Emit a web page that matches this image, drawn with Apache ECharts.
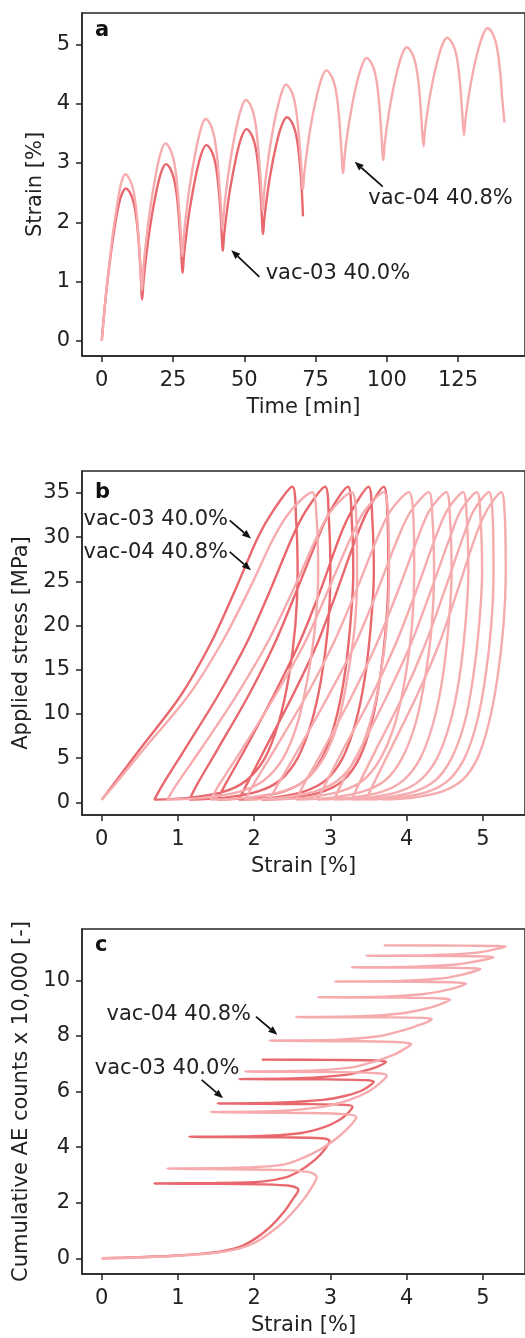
<!DOCTYPE html>
<html>
<head>
<meta charset="utf-8">
<script src="https://cdn.jsdelivr.net/npm/echarts@6.0.0/dist/echarts.min.js"></script>
<style>
  html, body { margin: 0; padding: 0; background: #fff; }
  #chart { width: 525px; height: 1338px; }
</style>
</head>
<body>
<div id="chart"></div>
<script>
// ---- panel a : strain vs time ----
const time03 = [0,1,2,3,4,5,6,7,8.4, 9.9,11.2,12.2,13.0,13.6,14.2, 14.6,15.2,16.7,18.7,20.7,22.5, 24.0,25.3,26.3,27.1,27.7,28.4,
  28.8,29.4,30.9,32.9,34.9,36.7, 38.2,39.5,40.5,41.3,41.9,42.5, 42.9,43.5,45.0,47.0,49.0,50.8, 52.3,53.6,54.6,55.4,56.0,56.6,
  57.0,57.6,59.1,61.1,63.1,65.0, 66.5,67.8,68.8,69.6,70.2,70.6];
const strainA03 = [0,0.55,1.0,1.4,1.75,2.05,2.3,2.47,2.57, 2.50,2.33,2.05,1.64,1.19,0.70, 0.97,1.27,1.84,2.41,2.82,2.98, 2.91,2.74,2.47,2.06,1.63,1.15,
  1.41,1.69,2.23,2.76,3.15,3.30, 3.23,3.07,2.80,2.41,1.98,1.52, 1.77,2.03,2.55,3.06,3.43,3.57, 3.50,3.34,3.07,2.69,2.26,1.80,
  2.04,2.29,2.79,3.28,3.63,3.77, 3.70,3.55,3.30,2.94,2.53,2.10];
const time04 = [0,1,2,3,4,5,6,7,8.2, 9.7,11.0,12.0,12.8,13.4,14.1, 14.5,15.1,16.6,18.6,20.6,22.3, 23.8,25.1,26.1,26.9,27.6,28.3,
  28.7,29.3,30.8,32.8,34.8,36.4, 37.9,39.2,40.2,41.0,41.7,42.4, 42.8,43.4,44.9,46.9,48.9,50.5, 52.0,53.3,54.3,55.1,55.8,56.5,
  56.9,57.5,59.0,61.0,63.0,64.6, 66.1,67.4,68.4,69.2,69.9,70.6, 71.0,71.6,73.1,75.1,77.1,78.8, 80.3,81.6,82.6,83.4,84.0,84.7,
  85.1,85.7,87.2,89.2,91.2,92.9, 94.4,95.7,96.7,97.5,98.1,98.8, 99.2,99.8,101.3,103.3,105.3,107.0, 108.5,109.8,110.8,111.6,112.2,112.9,
  113.3,113.9,115.4,117.4,119.4,121.2, 122.7,124.0,125.0,125.8,126.4,127.1, 127.5,128.1,129.6,131.6,133.6,135.3, 136.8,138.1,139.1,139.9,140.5,141.3];
const strainA04 = [0,0.55,1.02,1.45,1.85,2.17,2.47,2.69,2.81, 2.73,2.56,2.26,1.84,1.37,0.86, 1.16,1.48,2.10,2.71,3.16,3.33, 3.25,3.08,2.80,2.38,1.92,1.43,
  1.71,2.01,2.59,3.16,3.58,3.74, 3.67,3.50,3.22,2.81,2.36,1.88, 2.14,2.43,2.97,3.52,3.91,4.06, 3.99,3.82,3.54,3.13,2.68,2.20,
  2.45,2.73,3.26,3.79,4.17,4.32, 4.25,4.09,3.82,3.44,3.01,2.55, 2.79,3.05,3.56,4.06,4.42,4.56, 4.49,4.34,4.08,3.70,3.28,2.83,
  3.06,3.32,3.80,4.29,4.63,4.77, 4.70,4.55,4.29,3.91,3.50,3.05, 3.28,3.53,4.00,4.48,4.82,4.95, 4.88,4.73,4.48,4.12,3.71,3.28,
  3.50,3.74,4.20,4.65,4.98,5.11, 5.04,4.90,4.65,4.29,3.90,3.47, 3.69,3.92,4.37,4.82,5.14,5.27, 5.21,5.06,4.82,4.47,4.09,3.68];

// ---- panel b : stress vs strain, one row per loading / unloading branch ----
const loadStress03 = [0.3, 2, 6, 12, 18, 24, 30, 33, 35.7];
const loadStress04 = [0.3, 2, 6, 12, 18, 24, 30, 33, 35.1];
const unloadStress = [32, 26, 20, 14, 9, 5, 2.5, 1.2, 0.5, 0.3];
const loadStrain03 = [
  [0, 0.15, 0.50, 1.03, 1.43, 1.75, 2.05, 2.25, 2.50],
  [0.69, 0.80, 1.09, 1.52, 1.90, 2.21, 2.50, 2.68, 2.93],
  [1.15, 1.25, 1.52, 1.92, 2.27, 2.56, 2.84, 3.00, 3.23],
  [1.52, 1.62, 1.88, 2.25, 2.59, 2.87, 3.12, 3.28, 3.50],
  [1.80, 1.90, 2.14, 2.50, 2.83, 3.09, 3.34, 3.49, 3.70]
];
const unloadStrain03 = [
  [2.55, 2.57, 2.54, 2.45, 2.32, 2.14, 1.90, 1.60, 1.14, 0.69],
  [2.98, 3.00, 2.97, 2.88, 2.75, 2.57, 2.34, 2.04, 1.60, 1.15],
  [3.28, 3.30, 3.26, 3.18, 3.06, 2.89, 2.67, 2.38, 1.95, 1.52],
  [3.55, 3.57, 3.53, 3.45, 3.33, 3.16, 2.94, 2.65, 2.23, 1.80],
  [3.75, 3.76, 3.73, 3.65, 3.54, 3.38, 3.17, 2.90, 2.50, 2.10]
];
const loadStrain04 = [
  [0, 0.17, 0.55, 1.13, 1.57, 1.93, 2.26, 2.48, 2.76],
  [0.86, 0.98, 1.30, 1.76, 2.17, 2.51, 2.82, 3.01, 3.28],
  [1.43, 1.54, 1.84, 2.27, 2.66, 2.97, 3.27, 3.45, 3.70],
  [1.88, 1.99, 2.27, 2.68, 3.04, 3.34, 3.62, 3.79, 4.03],
  [2.20, 2.31, 2.58, 2.97, 3.33, 3.62, 3.89, 4.06, 4.29],
  [2.55, 2.65, 2.91, 3.28, 3.61, 3.89, 4.15, 4.30, 4.52],
  [2.83, 2.93, 3.17, 3.54, 3.86, 4.13, 4.38, 4.53, 4.74],
  [3.05, 3.14, 3.39, 3.74, 4.06, 4.32, 4.57, 4.71, 4.92],
  [3.28, 3.37, 3.60, 3.95, 4.25, 4.50, 4.74, 4.88, 5.08],
  [3.47, 3.56, 3.79, 4.13, 4.43, 4.67, 4.90, 5.05, 5.24]
];
const unloadStrain04 = [
  [2.82, 2.84, 2.80, 2.70, 2.57, 2.38, 2.13, 1.81, 1.34, 0.86],
  [3.34, 3.35, 3.32, 3.22, 3.10, 2.91, 2.67, 2.36, 1.89, 1.43],
  [3.76, 3.77, 3.74, 3.65, 3.52, 3.34, 3.10, 2.79, 2.34, 1.88],
  [4.09, 4.10, 4.07, 3.98, 3.85, 3.66, 3.43, 3.12, 2.66, 2.20],
  [4.34, 4.36, 4.33, 4.24, 4.12, 3.94, 3.72, 3.42, 2.99, 2.55],
  [4.57, 4.59, 4.55, 4.47, 4.35, 4.18, 3.96, 3.68, 3.25, 2.83],
  [4.79, 4.81, 4.77, 4.69, 4.57, 4.40, 4.18, 3.90, 3.47, 3.05],
  [4.97, 4.99, 4.95, 4.87, 4.76, 4.59, 4.38, 4.10, 3.69, 3.28],
  [5.13, 5.14, 5.11, 5.03, 4.92, 4.76, 4.55, 4.28, 3.87, 3.47],
  [5.29, 5.30, 5.27, 5.19, 5.08, 4.93, 4.73, 4.46, 4.07, 3.68]
];

// ---- panel c : cumulative AE counts (x 10,000) vs strain ----
const cStrain03 = [0,0.5,1.0,1.5,1.8,2.0,2.2,2.4,2.5,2.58, 2.48,2.1,1.4,0.69, 1.5,2.1,2.4,2.6,2.8,2.92,2.99, 2.88,2.4,1.15,
  2.0,2.6,2.9,3.1,3.22,3.29, 3.19,2.7,1.52, 2.3,2.9,3.2,3.4,3.5,3.57, 3.47,2.9,1.8, 2.6,3.2,3.45,3.62,3.73, 3.63,3.0,2.1];
const cCount03 = [0,0.04,0.1,0.22,0.4,0.68,1.1,1.7,2.1,2.47, 2.6,2.66,2.68,2.69, 2.71,2.76,2.9,3.15,3.55,3.9,4.22, 4.32,4.35,4.37,
  4.39,4.5,4.7,4.95,5.2,5.46, 5.52,5.55,5.57, 5.6,5.7,5.85,6.02,6.18,6.35, 6.41,6.44,6.45, 6.48,6.6,6.75,6.9,7.06, 7.12,7.14,7.15];
const cStrain04 = [0,0.5,1.0,1.5,1.8,2.0,2.2,2.4,2.6,2.72,2.82, 2.72,2.3,0.86, 1.8,2.4,2.75,3.0,3.2,3.34, 3.22,2.7,1.43,
  2.3,2.9,3.25,3.5,3.65,3.74, 3.62,3.1,1.88, 2.8,3.3,3.6,3.85,3.98,4.06, 3.95,3.4,2.2, 3.1,3.65,3.95,4.15,4.27,4.33, 4.22,3.7,2.55,
  3.4,3.95,4.25,4.45,4.57, 4.46,3.95,2.84, 3.7,4.2,4.5,4.68,4.78, 4.68,4.2,3.06, 3.9,4.45,4.72,4.88,4.97, 4.87,4.4,3.28,
  4.1,4.65,4.9,5.06,5.14, 5.04,4.6,3.47, 4.3,4.85,5.1,5.23,5.3, 5.2,4.8,3.70];
const cCount04 = [0,0.03,0.09,0.2,0.35,0.55,0.9,1.35,1.95,2.4,2.93, 3.1,3.18,3.23, 3.26,3.38,3.75,4.15,4.6,5.08, 5.18,5.23,5.26,
  5.3,5.45,5.7,6.0,6.3,6.58, 6.66,6.7,6.72, 6.76,6.88,7.1,7.35,7.55,7.7, 7.77,7.81,7.83, 7.87,8.0,8.2,8.38,8.5,8.6, 8.65,8.67,8.68,
  8.71,8.82,8.98,9.15,9.3, 9.35,9.38,9.39, 9.41,9.5,9.64,9.77,9.88, 9.92,9.95,9.96, 9.98,10.07,10.2,10.32,10.41, 10.44,10.46,10.47,
  10.49,10.57,10.68,10.77,10.83, 10.86,10.88,10.89, 10.91,10.98,11.08,11.16,11.22, 11.24,11.25,11.26];

// tick labels
const timeTicks = [0, 25, 50, 75, 100, 125];
const strainTicksA = [0, 1, 2, 3, 4, 5];
const strainTicks = [0, 1, 2, 3, 4, 5];
const stressTicks = [0, 5, 10, 15, 20, 25, 30, 35];
const countTicks = [0, 2, 4, 6, 8, 10];

const FONT = 'DejaVu Sans';
const INK = '#262626';
const C03 = '#e9686e';
const C04 = '#f6abae';

const zip = (xs, ys) => xs.map((x, i) => [x, ys[i]]);

// join loading / unloading branches into one continuous path
function loops(loadS, loadE, unloadS, unloadE) {
  const out = [];
  loadE.forEach((row, i) => {
    row.forEach((e, j) => { if (!(i > 0 && j === 0)) out.push([e, loadS[j]]); });
    unloadE[i].forEach((e, j) => out.push([e, unloadS[j]]));
  });
  return out;
}

function xAxis(gridIndex, min, max, ticks, name) {
  return {
    type: 'value', gridIndex, min, max, name, nameLocation: 'middle', nameGap: 41,
    nameTextStyle: { fontSize: 21, color: '#222', fontFamily: FONT },
    axisLine: { show: true, onZero: false, lineStyle: { color: INK, width: 1.5 } },
    axisTick: { show: true, customValues: ticks, length: 6, lineStyle: { color: INK, width: 1.5 } },
    axisLabel: { customValues: ticks, fontSize: 21, color: '#222', margin: 14, fontFamily: FONT },
    splitLine: { show: false }
  };
}
function yAxis(gridIndex, min, max, ticks, name, gap) {
  return {
    type: 'value', gridIndex, min, max, name, nameLocation: 'middle', nameGap: gap,
    nameTextStyle: { fontSize: 21, color: '#222', fontFamily: FONT },
    axisLine: { show: true, onZero: false, lineStyle: { color: INK, width: 1.5 } },
    axisTick: { show: true, customValues: ticks, length: 6, lineStyle: { color: INK, width: 1.5 } },
    axisLabel: { customValues: ticks, fontSize: 21, color: '#222', margin: 12, fontFamily: FONT },
    splitLine: { show: false }
  };
}
function line(idx, data, color, smooth) {
  return {
    type: 'line', xAxisIndex: idx, yAxisIndex: idx, data, showSymbol: false, symbol: 'none',
    smooth, clip: true, lineStyle: { width: 2.4, color }, itemStyle: { color }
  };
}

const chart = echarts.init(document.getElementById('chart'));
const gridStyle = { show: true, borderColor: INK, borderWidth: 1.5, backgroundColor: 'transparent' };

chart.setOption({
  animation: false,
  backgroundColor: '#fff',
  grid: [
    Object.assign({ left: 82, top: 13, width: 449, height: 343 }, gridStyle),
    Object.assign({ left: 82, top: 471, width: 449, height: 344 }, gridStyle),
    Object.assign({ left: 82, top: 929, width: 449, height: 345 }, gridStyle)
  ],
  xAxis: [
    xAxis(0, -6.93, 148.5, timeTicks, 'Time [min]'),
    xAxis(1, -0.259, 5.553, strainTicks, 'Strain [%]'),
    xAxis(2, -0.259, 5.553, strainTicks, 'Strain [%]')
  ],
  yAxis: [
    yAxis(0, -0.253, 5.527, strainTicksA, 'Strain [%]', 35),
    yAxis(1, -1.436, 37.49, stressTicks, 'Applied stress [MPa]', 50),
    yAxis(2, -0.566, 11.85, countTicks, 'Cumulative AE counts x 10,000 [-]', 50)
  ],
  series: [
    line(0, zip(time03, strainA03), C03, 0.35),
    line(0, zip(time04, strainA04), C04, 0.35),
    line(1, loops(loadStress03, loadStrain03, unloadStress, unloadStrain03), C03, 0.3),
    line(1, loops(loadStress04, loadStrain04, unloadStress, unloadStrain04), C04, 0.3),
    line(2, zip(cStrain03, cCount03), C03, 0.3),
    line(2, zip(cStrain04, cCount04), C04, 0.3)
  ]
});

// panel letters and arrow labels (label anchors given in data units of each panel)
const letters = [['a', 95, 31], ['b', 95, 493], ['c', 95, 946]];
const notes = [
  { grid: 0, text: 'vac-04 40.8%', at: [93.5, 2.405], align: 'left', tail: [98.6, 2.60], head: [88.75, 3.02] },
  { grid: 0, text: 'vac-03 40.0%', at: [57.5, 1.13], align: 'left', tail: [55.3, 1.08], head: [45.46, 1.53] },
  { grid: 1, text: 'vac-03 40.0%', at: [1.657, 32.03], align: 'right', tail: [1.679, 31.91], head: [1.958, 29.84] },
  { grid: 1, text: 'vac-04 40.8%', at: [1.657, 28.24], align: 'right', tail: [1.679, 28.33], head: [1.958, 26.26] },
  { grid: 2, text: 'vac-04 40.8%', at: [1.958, 8.76], align: 'right', tail: [2.023, 8.70], head: [2.304, 8.04] },
  { grid: 2, text: 'vac-03 40.0%', at: [-0.091, 6.84], align: 'left', tail: [1.311, 6.42], head: [1.592, 5.76] }
];

const graphic = [];
letters.forEach(([t, x, y]) => graphic.push({
  type: 'text', x, y, z: 10,
  style: { text: t, fontSize: 21, fontWeight: 'bold', fontFamily: FONT, fill: '#111', align: 'left', verticalAlign: 'middle' }
}));
notes.forEach(n => {
  const p = chart.convertToPixel({ gridIndex: n.grid }, n.at);
  graphic.push({
    type: 'text', x: p[0], y: p[1], z: 10,
    style: { text: n.text, fontSize: 21, fontFamily: FONT, fill: '#222', align: n.align, verticalAlign: 'middle' }
  });
  const a = chart.convertToPixel({ gridIndex: n.grid }, n.tail);
  const b = chart.convertToPixel({ gridIndex: n.grid }, n.head);
  const dx = b[0] - a[0], dy = b[1] - a[1], L = Math.hypot(dx, dy), ux = dx / L, uy = dy / L;
  const hl = 9, hw = 3.6;
  const bx = b[0] - ux * hl, by = b[1] - uy * hl;
  graphic.push({ type: 'line', z: 10, shape: { x1: a[0], y1: a[1], x2: bx, y2: by }, style: { stroke: '#111', lineWidth: 1.7 } });
  graphic.push({ type: 'polygon', z: 10, shape: { points: [[b[0], b[1]], [bx - uy * hw, by + ux * hw], [bx + uy * hw, by - ux * hw]] }, style: { fill: '#111' } });
});
chart.setOption({ graphic });
</script>
</body>
</html>
